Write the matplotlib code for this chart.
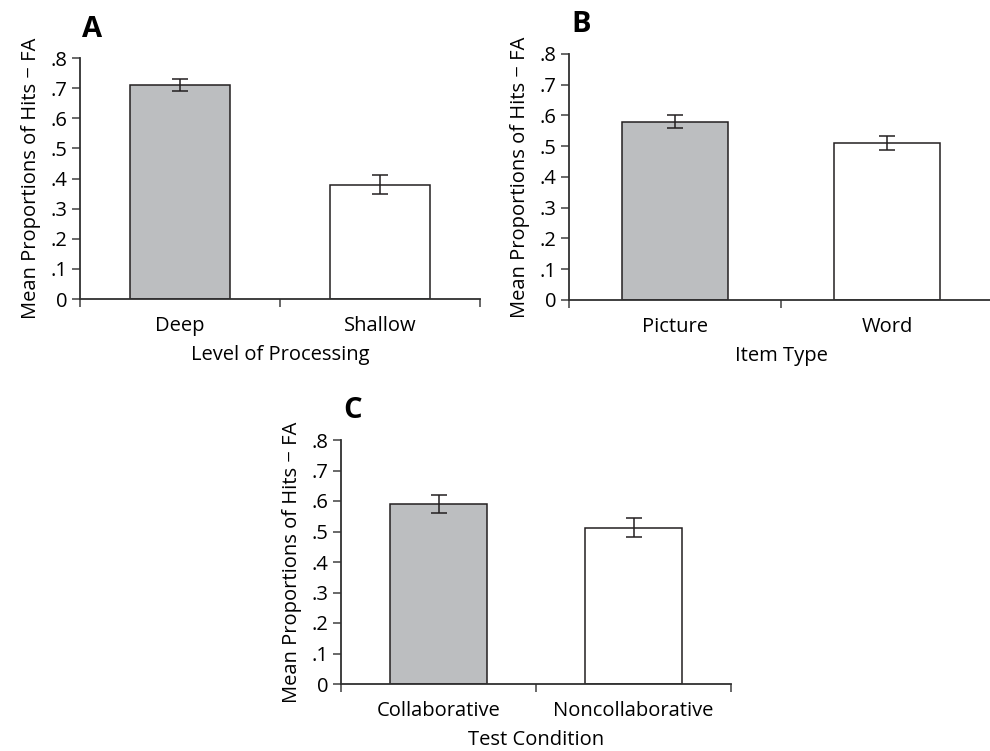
import matplotlib.pyplot as plt

plt.rcParams['font.family'] = ['Open Sans', 'DejaVu Sans']

# panel A
cats_a = ["Deep", "Shallow"]
vals_a = [0.71, 0.38]
errs_a = [0.019, 0.03]
# panel B
cats_b = ["Picture", "Word"]
vals_b = [0.58, 0.51]
errs_b = [0.021, 0.022]
# panel C
cats_c = ["Collaborative", "Noncollaborative"]
vals_c = [0.59, 0.513]
errs_c = [0.03, 0.03]

bar_colors = ["#bcbec0", "white"]
yticks = [0, 0.1, 0.2, 0.3, 0.4, 0.5, 0.6, 0.7, 0.8]
ytick_labels = ["0", ".1", ".2", ".3", ".4", ".5", ".6", ".7", ".8"]
ylab = "Mean Proportions of Hits \u2212 FA"
fs = 14.5

W, H = 990, 751
fig = plt.figure(figsize=(9.9, 7.51), dpi=100)


def panel(px_left, px_right, px_top, px_bottom, cats, vals, errs, xlabel, letter):
    ax = fig.add_axes([px_left / W, 1 - px_bottom / H,
                       (px_right - px_left) / W, (px_bottom - px_top) / H])
    xs = [0.5, 1.5]
    ax.bar(xs, vals, width=0.5, color=bar_colors, edgecolor="#231f20", linewidth=1.1, zorder=2)
    ax.errorbar(xs, vals, yerr=errs, fmt="none", ecolor="#231f20", elinewidth=1.1,
                capsize=6, capthick=1.1, zorder=3)
    ax.set_xlim(0, 2)
    ax.set_ylim(0, 0.8)
    ax.set_yticks(yticks)
    ax.set_yticklabels(ytick_labels)
    ax.set_xticks([0, 1, 2])
    ax.set_xticklabels([])
    ax.set_xticks(xs, minor=True)
    ax.set_xticklabels(cats, minor=True)
    ax.tick_params(axis="x", which="minor", length=0, pad=12, labelsize=fs)
    ax.tick_params(axis="x", which="major", length=6, width=1.1, color="#404040")
    ax.tick_params(axis="y", length=6, width=1.1, color="#404040", labelsize=fs, pad=3)
    for s in ["top", "right"]:
        ax.spines[s].set_visible(False)
    for s in ["left", "bottom"]:
        ax.spines[s].set_linewidth(1.3)
        ax.spines[s].set_color("#303030")
    ax.set_xlabel(xlabel, fontsize=fs, labelpad=7)
    ax.set_ylabel(ylab, fontsize=fs, labelpad=7)
    ax.text(0.005, 1.06, letter, transform=ax.transAxes, fontsize=21, fontweight="bold",
            ha="left", va="bottom")
    return ax


panel(80, 480, 58, 299, cats_a, vals_a, errs_a, "Level of Processing", "A")
panel(569, 993, 54, 300, cats_b, vals_b, errs_b, "Item Type", "B")
panel(341, 731, 440, 684, cats_c, vals_c, errs_c, "Test Condition", "C")

fig.savefig("out.png", dpi=100)
